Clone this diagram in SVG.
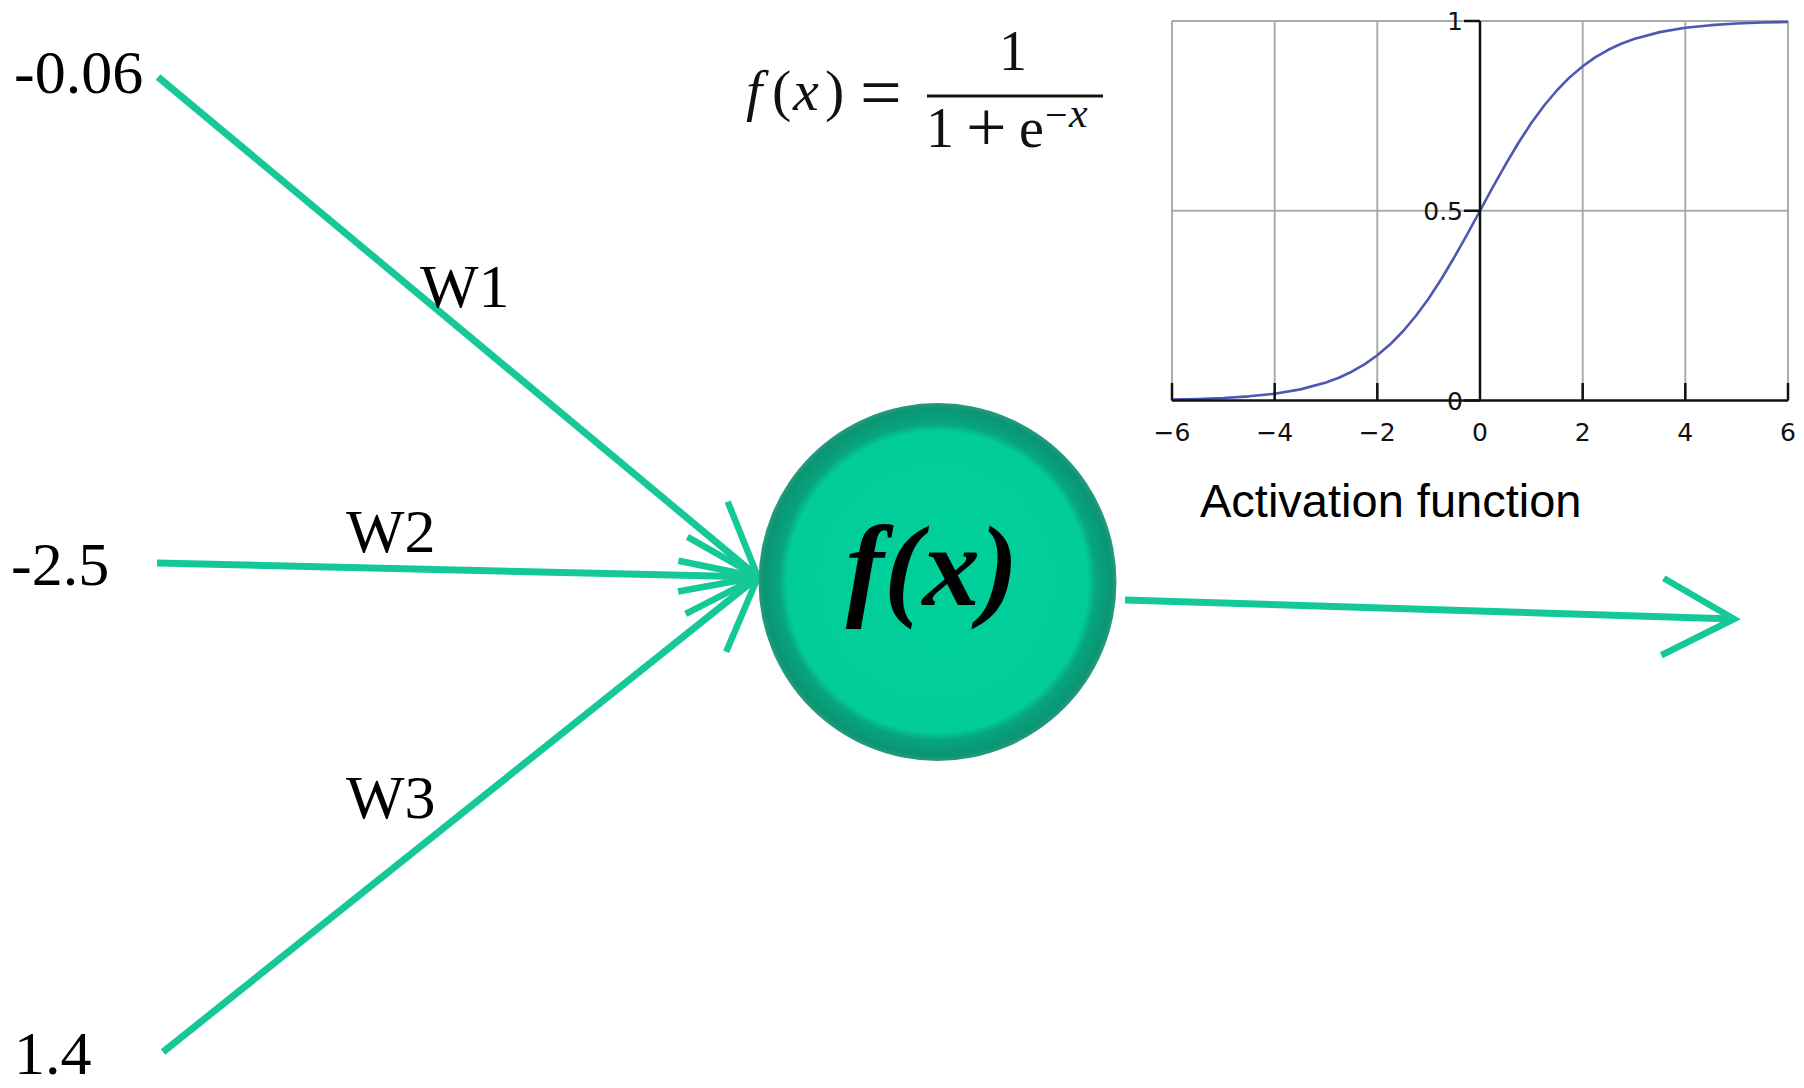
<svg xmlns="http://www.w3.org/2000/svg" width="1804" height="1088" viewBox="0 0 1804 1088">
  <style>
    .lbl { font-family: "Liberation Serif", "Times New Roman", serif; font-size: 62px; fill: #000; }
    .edge { stroke: #15c897; stroke-width: 7; fill: none; }
    .grid { stroke: #ababab; stroke-width: 2; fill: none; }
    .axis { stroke: #111; stroke-width: 2.5; fill: none; }
    .tick { font-family: "DejaVu Sans", sans-serif; font-size: 25px; fill: #111; }
    .math { font-family: "Liberation Serif", "Times New Roman", serif; fill: #111; }
  </style>
  <defs>
    <marker id="chev" markerUnits="userSpaceOnUse" viewBox="-90 -50 100 100" refX="0" refY="0" markerWidth="100" markerHeight="100" orient="auto" overflow="visible">
      <path d="M-71.5,-38.5 L0,0 L-71.5,38.5" fill="none" stroke="#15c897" stroke-width="6.5" stroke-linejoin="miter"/>
    </marker>
    <radialGradient id="neuronFill" cx="0.5" cy="0.5" r="0.5">
      <stop offset="0" stop-color="#00d09b"/>
      <stop offset="0.84" stop-color="#02cd99"/>
      <stop offset="0.885" stop-color="#07a57f"/>
      <stop offset="0.97" stop-color="#0a9574"/>
      <stop offset="1" stop-color="#2a9a7e"/>
    </radialGradient>
  </defs>
  <rect width="1804" height="1088" fill="#fff"/>

  <g id="connectors">
    <line class="edge" x1="158" y1="77" x2="758" y2="577" marker-end="url(#chev)"/>
    <line class="edge" x1="157" y1="563" x2="758" y2="577" marker-end="url(#chev)"/>
    <line class="edge" x1="163" y1="1052" x2="758" y2="577" marker-end="url(#chev)"/>
    <line class="edge" x1="1125" y1="600" x2="1734" y2="619" marker-end="url(#chev)"/>
  </g>

  <g id="input-1"><text class="lbl" x="14" y="93">-0.06</text></g>
  <g id="input-2"><text class="lbl" x="11" y="585">-2.5</text></g>
  <g id="input-3"><text class="lbl" x="14" y="1074">1.4</text></g>

  <g id="weight-1"><text class="lbl" x="420" y="307">W1</text></g>
  <g id="weight-2"><text class="lbl" x="346" y="552">W2</text></g>
  <g id="weight-3"><text class="lbl" x="346" y="818">W3</text></g>

  <g id="neuron">
    <circle cx="937.5" cy="582" r="179" fill="url(#neuronFill)"/>
    <text x="932" y="605" text-anchor="middle" font-family="Liberation Serif, 'Times New Roman', serif" font-size="115" font-weight="bold" font-style="italic" fill="#000">f(x)</text>
  </g>

  <g id="formula">
    <text class="math" font-size="58" y="110">
      <tspan x="746" font-style="italic">f</tspan><tspan x="772">(</tspan><tspan x="793" font-style="italic">x</tspan><tspan x="825">)</tspan>
    </text>
    <text class="math" font-size="74" x="860" y="117">=</text>
    <line x1="927" y1="96" x2="1103" y2="96" stroke="#111" stroke-width="2.8"/>
    <text class="math" font-size="56" x="999" y="70">1</text>
    <text class="math" font-size="56" x="926" y="147">1</text>
    <text class="math" font-size="72" x="966" y="151">+</text>
    <text class="math" font-size="56" x="1019" y="147">e</text>
    <text class="math" font-size="40" x="1045" y="128">−</text>
    <text class="math" font-size="42" x="1069" y="127" font-style="italic">x</text>
  </g>

  <g id="activation-chart">
    <g class="grid">
      <line x1="1172" y1="21" x2="1172" y2="400.5"/>
      <line x1="1274.7" y1="21" x2="1274.7" y2="400.5"/>
      <line x1="1377.3" y1="21" x2="1377.3" y2="400.5"/>
      <line x1="1582.7" y1="21" x2="1582.7" y2="400.5"/>
      <line x1="1685.3" y1="21" x2="1685.3" y2="400.5"/>
      <line x1="1788" y1="21" x2="1788" y2="400.5"/>
      <line x1="1172" y1="21" x2="1788" y2="21"/>
      <line x1="1172" y1="210.75" x2="1788" y2="210.75"/>
    </g>
    <polyline fill="none" stroke="#4e58b2" stroke-width="2.6" stroke-linejoin="round" points="1172,399.56 1197.7,398.96 1223.4,397.96 1249,396.33 1274.7,393.67 1300.4,389.38 1326,382.5 1338.8,377.7 1351.7,371.71 1364.5,364.32 1377.3,355.26 1390.2,344.32 1403,331.27 1415.8,315.99 1428.7,298.44 1441.5,278.75 1454.3,257.22 1467.2,234.35 1480,210.75 1492.8,187.15 1505.7,164.28 1518.5,142.75 1531.3,123.06 1544.2,105.51 1557,90.23 1569.8,77.18 1582.7,66.24 1595.5,57.18 1608.3,49.79 1621.2,43.8 1634,39 1659.6,32.12 1685.3,27.83 1711,25.17 1736.6,23.54 1762.3,22.54 1788,21.94"/>
    <g class="axis">
      <line x1="1480" y1="21" x2="1480" y2="401"/>
      <line x1="1172" y1="400.5" x2="1788" y2="400.5"/>
      <line x1="1464" y1="21" x2="1480" y2="21"/>
      <line x1="1464" y1="210.75" x2="1480" y2="210.75"/>
      <line x1="1464" y1="400.5" x2="1480" y2="400.5"/>
      <line x1="1172" y1="383" x2="1172" y2="400.5"/>
      <line x1="1274.7" y1="383" x2="1274.7" y2="400.5"/>
      <line x1="1377.3" y1="383" x2="1377.3" y2="400.5"/>
      <line x1="1582.7" y1="383" x2="1582.7" y2="400.5"/>
      <line x1="1685.3" y1="383" x2="1685.3" y2="400.5"/>
      <line x1="1788" y1="383" x2="1788" y2="400.5"/>
    </g>
    <g class="tick" text-anchor="end">
      <text x="1463" y="29.5">1</text>
      <text x="1463" y="220">0.5</text>
      <text x="1463" y="409.5">0</text>
    </g>
    <g class="tick" text-anchor="middle">
      <text x="1172" y="441">−6</text>
      <text x="1274.7" y="441">−4</text>
      <text x="1377.3" y="441">−2</text>
      <text x="1480" y="441">0</text>
      <text x="1582.7" y="441">2</text>
      <text x="1685.3" y="441">4</text>
      <text x="1788" y="441">6</text>
    </g>
  </g>

  <g id="activation-label">
    <text x="1200" y="517" font-family="Liberation Sans, Arial, sans-serif" font-size="47" fill="#000">Activation function</text>
  </g>
</svg>
